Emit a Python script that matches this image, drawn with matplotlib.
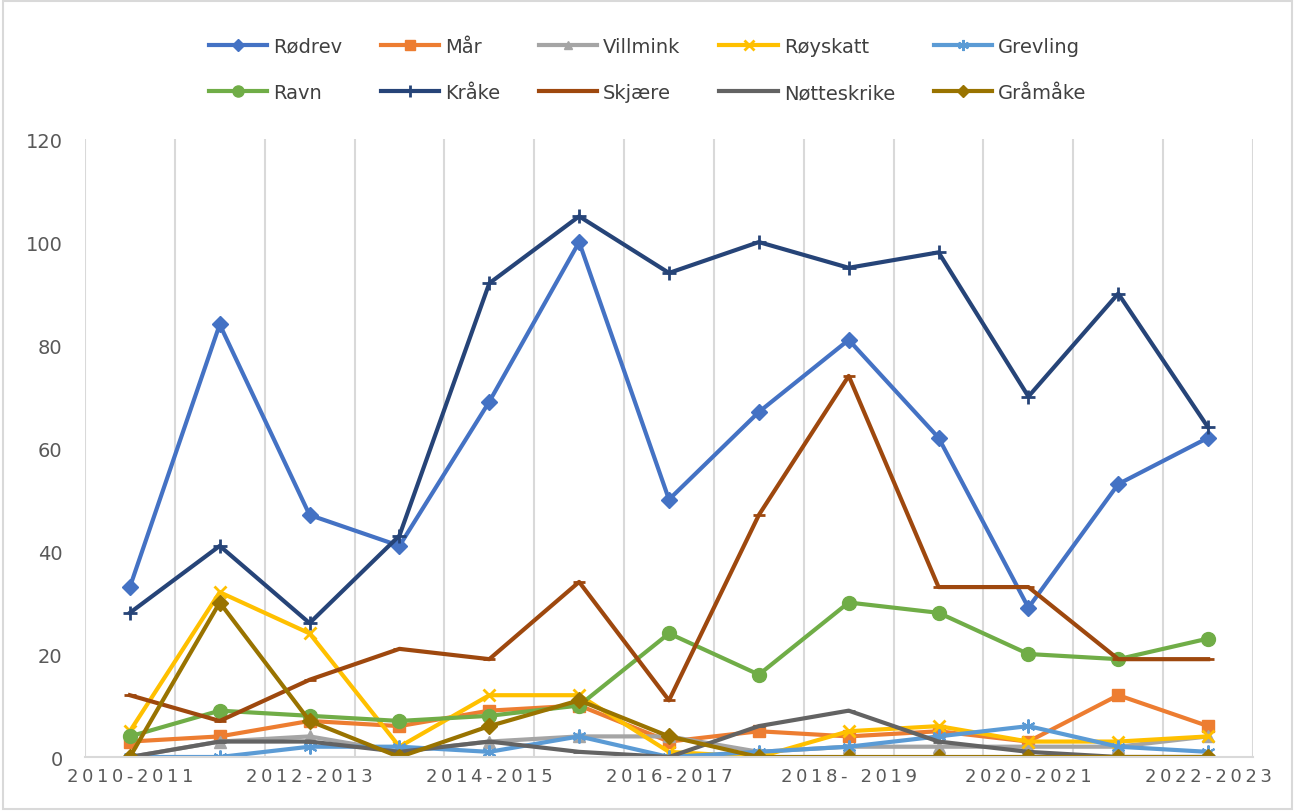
import matplotlib.pyplot as plt
from matplotlib.patches import Rectangle
import numpy as np

seasons = ['2010-2011', '2011-2012', '2012-2013', '2013-2014', '2014-2015', '2015-2016',
           '2016-2017', '2017-2018', '2018- 2019', '2019-2020', '2020-2021', '2021-2022', '2022-2023']

rodrev      = [33, 84, 47, 41, 69, 100, 50, 67, 81, 62, 29, 53, 62]
maar        = [3, 4, 7, 6, 9, 10, 3, 5, 4, 5, 3, 12, 6]
villmink    = [0, 3, 4, 1, 3, 4, 4, 1, 2, 2, 2, 2, 4]
royskatt    = [5, 32, 24, 2, 12, 12, 1, 0, 5, 6, 3, 3, 4]
grevling    = [0, 0, 2, 2, 1, 4, 0, 1, 2, 4, 6, 2, 1]
ravn        = [4, 9, 8, 7, 8, 10, 24, 16, 30, 28, 20, 19, 23]
kraake      = [28, 41, 26, 43, 92, 105, 94, 100, 95, 98, 70, 90, 64]
skjaere     = [12, 7, 15, 21, 19, 34, 11, 47, 74, 33, 33, 19, 19]
notteskrike = [0, 3, 3, 1, 3, 1, 0, 6, 9, 3, 1, 0, 0]
graamaake   = [0, 30, 7, 0, 6, 11, 4, 0, 0, 0, 0, 0, 0]

series = [
    ('Rødrev', rodrev, '#4472C4', 'D', 8),
    ('Mår', maar, '#ED7D31', 's', 9),
    ('Villmink', villmink, '#A5A5A5', '^', 8),
    ('Røyskatt', royskatt, '#FFC000', 'x', 9),
    ('Grevling', grevling, '#5B9BD5', '*', 0),
    ('Ravn', ravn, '#70AD47', 'o', 10),
    ('Kråke', kraake, '#264478', '+', 10),
    ('Skjære', skjaere, '#9E480E', '_', 8),
    ('Nøtteskrike', notteskrike, '#636363', '_', 8),
    ('Gråmåke', graamaake, '#997300', 'D', 8),
]

fig = plt.figure(figsize=(12.95, 8.12), dpi=100)
ax = fig.add_axes([0.0656, 0.0665, 0.902, 0.761])

x = np.arange(len(seasons))
handles = []
for name, vals, color, marker, ms in series:
    if marker == '*':
        # asterisk-like marker
        line, = ax.plot(x, vals, color=color, lw=3, marker=(6, 2, 0), ms=10,
                        mew=1.5, label=name, solid_joinstyle='round')
    elif marker in ('x', '+', '_'):
        line, = ax.plot(x, vals, color=color, lw=3, marker=marker, ms=ms,
                        mew=2, label=name, solid_joinstyle='round')
    else:
        line, = ax.plot(x, vals, color=color, lw=3, marker=marker, ms=ms,
                        label=name, solid_joinstyle='round')
    handles.append(line)

ax.set_xlim(-0.5, len(seasons) - 0.5)
ax.set_ylim(0, 120)
ax.set_yticks(range(0, 121, 20))

# vertical gridlines at category boundaries
for b in np.arange(-0.5, len(seasons), 1.0):
    ax.axvline(b, color='#D9D9D9', lw=1.5, zorder=0)

spaced = ['\u2009'.join(s) for s in seasons]
ax.set_xticks(x[::2])
ax.set_xticklabels(spaced[::2])
ax.tick_params(axis='x', length=0, pad=7, labelsize=13, labelcolor='#595959')
ax.tick_params(axis='y', length=0, pad=16, labelsize=14, labelcolor='#595959')
for sp in ['top', 'right', 'left']:
    ax.spines[sp].set_visible(False)
ax.spines['bottom'].set_color('#D9D9D9')
ax.spines['bottom'].set_linewidth(1.5)

# legend filled row by row
order = [0, 5, 1, 6, 2, 7, 3, 8, 4, 9]
fig.legend([handles[i] for i in order], [series[i][0] for i in order],
           loc='upper center', bbox_to_anchor=(0.5, 0.975), ncol=5, frameon=False,
           fontsize=14, labelcolor='#404040', handlelength=3.0, handletextpad=0.3,
           columnspacing=2.0, labelspacing=1.4, markerscale=0.8)

fig.patches.append(Rectangle((0.002, 0.002), 0.996, 0.996, transform=fig.transFigure,
                             fill=False, edgecolor='#D9D9D9', lw=1.5))

fig.savefig('out.png', dpi=100)
